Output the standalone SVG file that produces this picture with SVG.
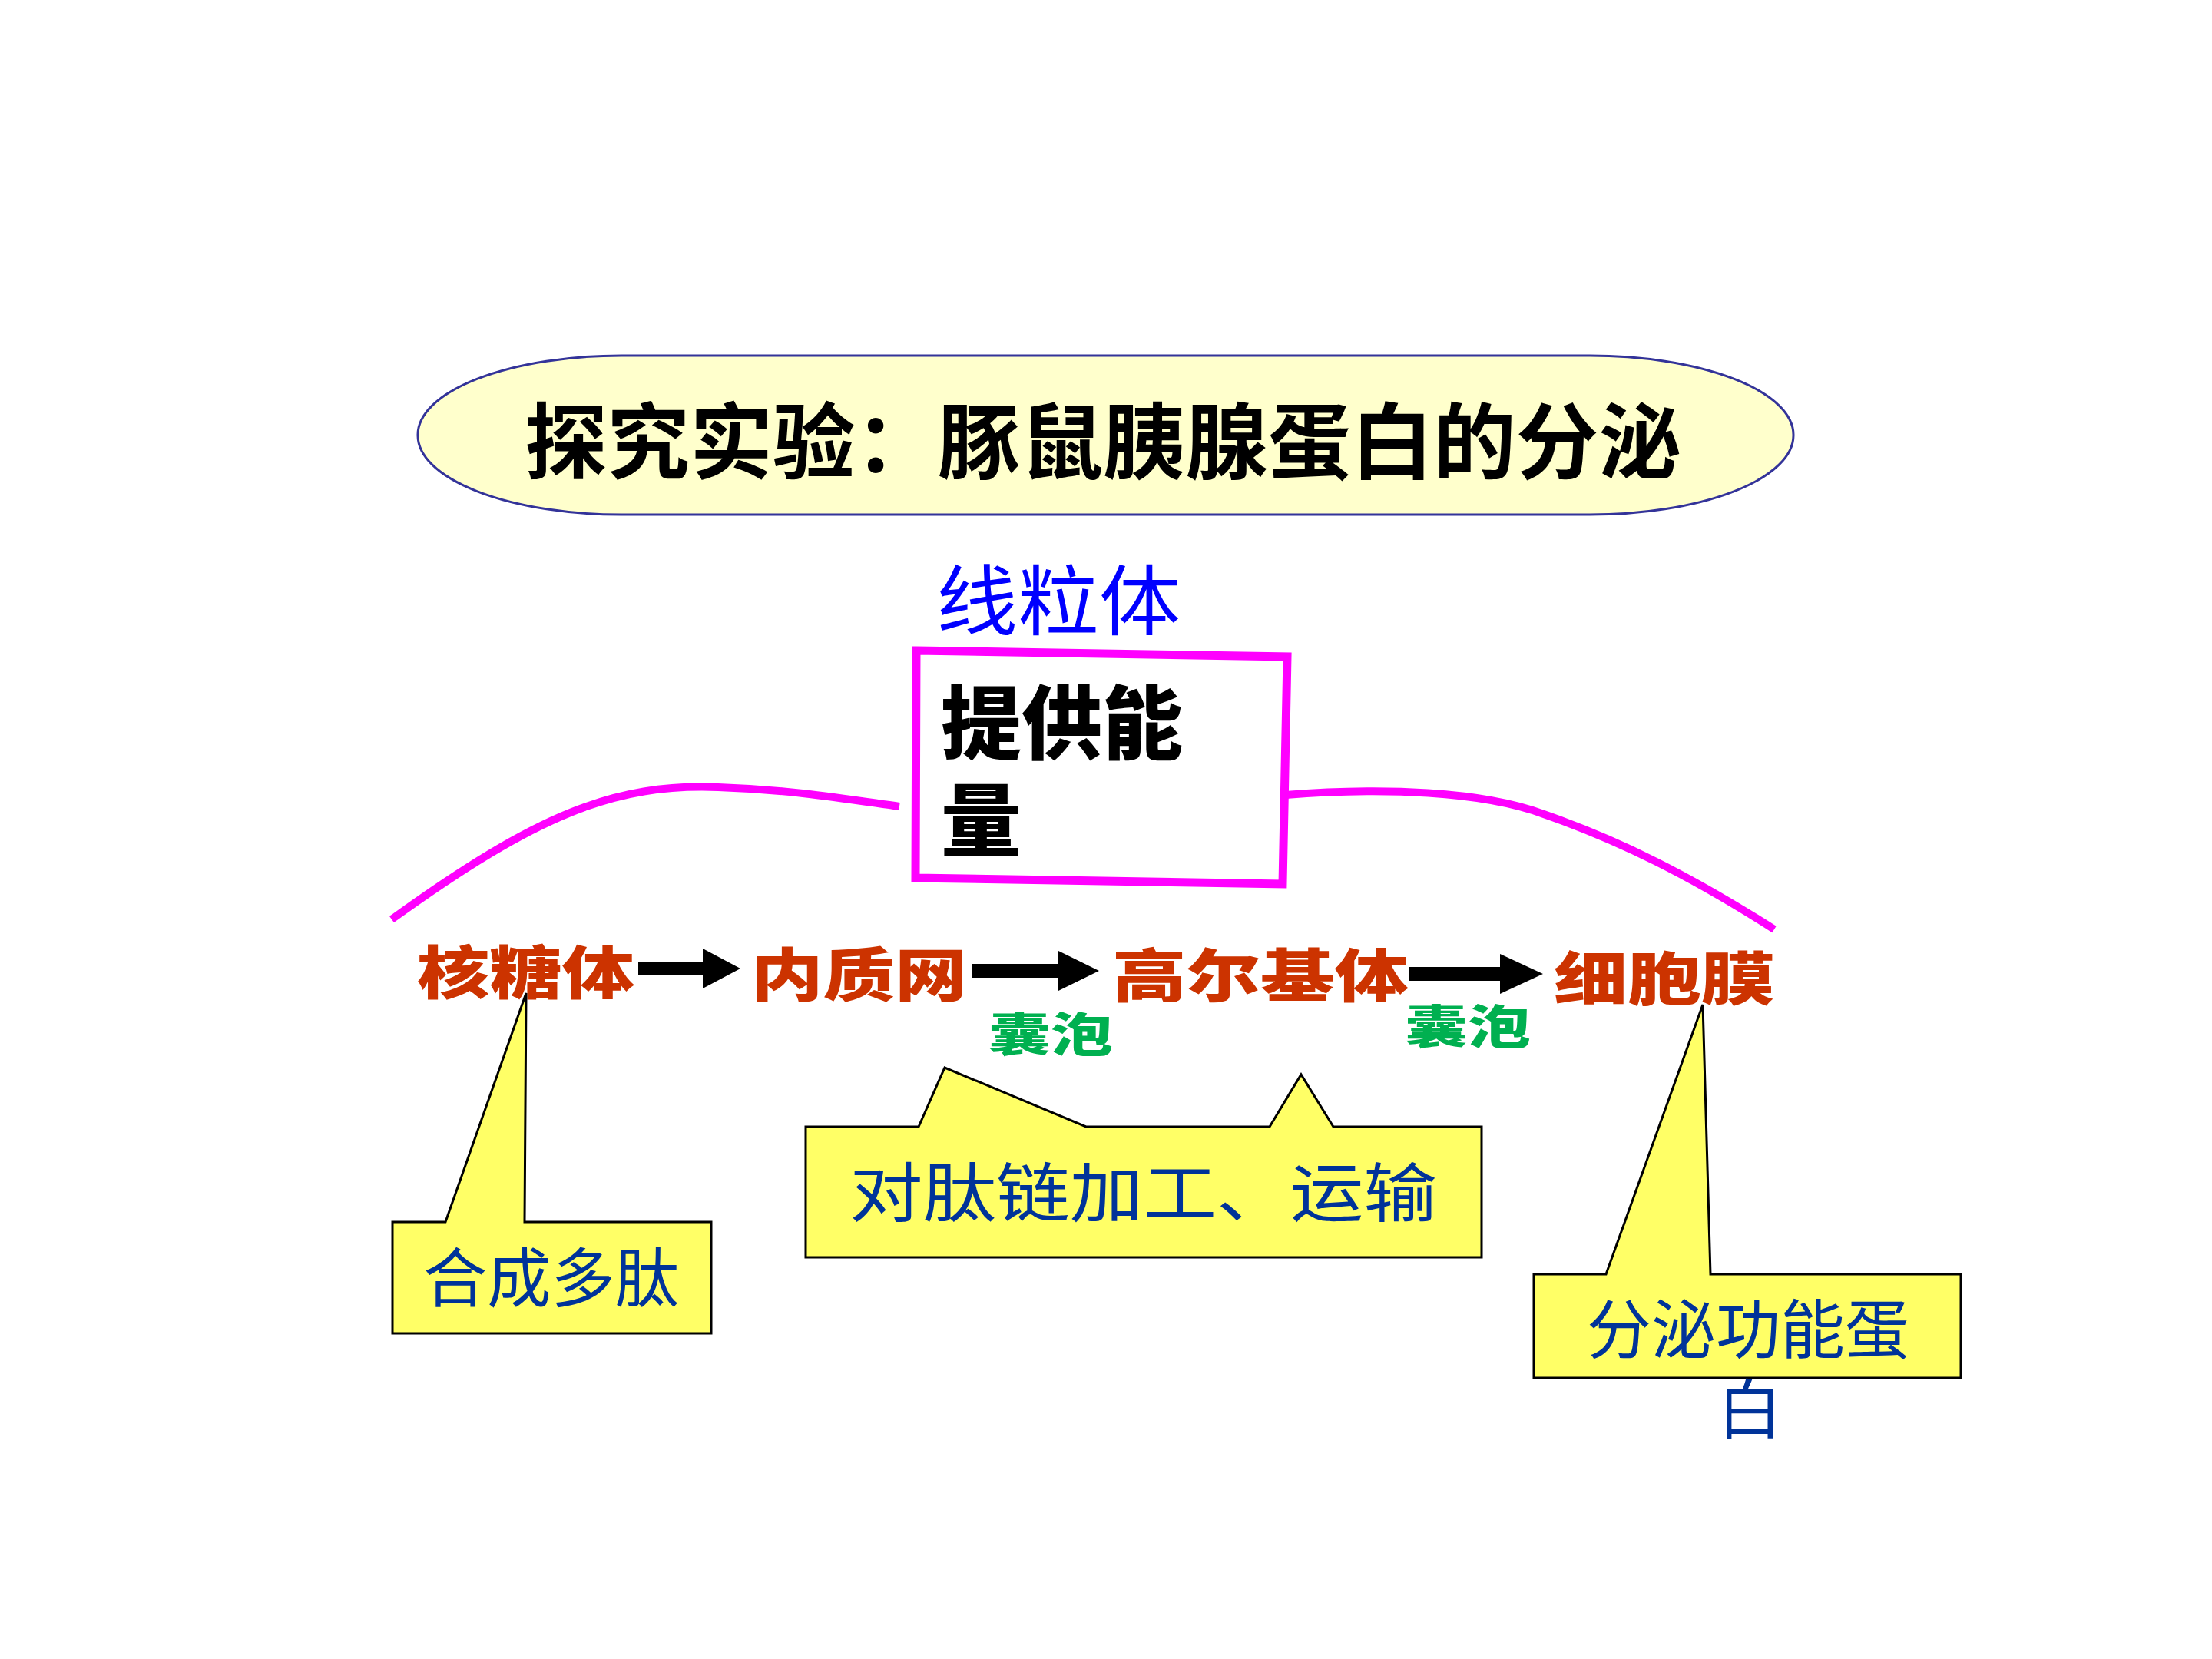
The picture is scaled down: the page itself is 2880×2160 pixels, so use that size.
<svg xmlns="http://www.w3.org/2000/svg" width="2880" height="2160" viewBox="0 0 2880 2160">
<style>
.cjk{font-family:"Noto Sans CJK SC","Noto Sans CJK TC",sans-serif}
.row{font-size:75px;font-weight:900;fill:#CC3300}
.ves{font-size:60px;font-weight:900;fill:#00B050}
.call{fill:#FFFF66;stroke:#000;stroke-width:3;stroke-linejoin:miter}
.ctext{fill:#003399;font-size:84px}
.mag{fill:none;stroke:#FF00FF;stroke-width:10}
</style>
<rect width="2880" height="2160" fill="#fff"/>
<g id="title">
<rect x="544" y="463" width="1791" height="207" rx="265" ry="103" fill="#FFFFCC" stroke="#333399" stroke-width="3"/>
<text class="cjk" x="683" y="615" font-size="108" font-weight="700" textLength="1506" lengthAdjust="spacingAndGlyphs" fill="#000">探究实验：豚鼠胰腺蛋白的分泌</text>
</g>
<g id="connectors">
<path class="mag" d="M510 1197 C700 1060 800 1020 935 1025 C1030 1028 1100 1040 1171 1050"/>
<path class="mag" d="M1674 1035 C1800 1025 1930 1030 2010 1060 C2110 1095 2200 1140 2310 1210"/>
<polygon points="831,1252 915,1252 915,1235 964,1261 915,1287 915,1270 831,1270" fill="#000"/>
<polygon points="1266,1255 1378,1255 1378,1238 1431,1264 1378,1290 1378,1273 1266,1273" fill="#000"/>
<polygon points="1834,1259 1953,1259 1953,1242 2009,1268 1953,1294 1953,1277 1834,1277" fill="#000"/>
</g>
<g id="mito">
<text class="cjk" x="1219" y="819" font-size="100" textLength="318" lengthAdjust="spacingAndGlyphs" fill="#0000FF">线粒体</text>
<polygon points="1193,847 1676,855 1670,1151 1192,1143" fill="#fff" stroke="#FF00FF" stroke-width="11"/>
<text class="cjk" font-size="105" font-weight="900" fill="#000"><tspan x="1225" y="980">提供能</tspan><tspan x="1225" y="1107">量</tspan></text>
</g>
<g id="ribosome"><text class="cjk row" x="543" y="1294" textLength="283" lengthAdjust="spacingAndGlyphs">核糖体</text></g>
<g id="er"><text class="cjk row" x="978" y="1297" textLength="281" lengthAdjust="spacingAndGlyphs">内质网</text></g>
<g id="golgi"><text class="cjk row" x="1448" y="1298" textLength="386" lengthAdjust="spacingAndGlyphs">高尔基体</text></g>
<g id="membrane"><text class="cjk row" x="2023" y="1302" textLength="288" lengthAdjust="spacingAndGlyphs">细胞膜</text></g>
<g id="vesicle1"><text class="cjk ves" x="1287" y="1369" textLength="162" lengthAdjust="spacingAndGlyphs">囊泡</text></g>
<g id="vesicle2"><text class="cjk ves" x="1829" y="1359" textLength="164" lengthAdjust="spacingAndGlyphs">囊泡</text></g>
<g id="callout1">
<path class="call" d="M511 1591 L580 1591 L685 1293 L683 1591 L926 1591 L926 1736 L511 1736 Z"/>
<text class="cjk ctext" x="551" y="1695" textLength="333" lengthAdjust="spacingAndGlyphs">合成多肽</text>
</g>
<g id="callout2">
<path class="call" d="M1049 1467 L1196 1467 L1230 1390 L1414 1467 L1653 1467 L1694 1399 L1736 1467 L1929 1467 L1929 1637 L1049 1637 Z"/>
<text class="cjk ctext" x="1106" y="1584" font-size="92" textLength="765" lengthAdjust="spacingAndGlyphs">对肽链加工、运输</text>
</g>
<g id="callout3">
<path class="call" d="M1997 1659 L2091 1659 L2217 1308 L2227 1659 L2553 1659 L2553 1794 L1997 1794 Z"/>
<text class="cjk ctext" text-anchor="middle"><tspan x="2276" y="1762">分泌功能蛋</tspan><tspan x="2278" y="1866">白</tspan></text>
</g>
</svg>
